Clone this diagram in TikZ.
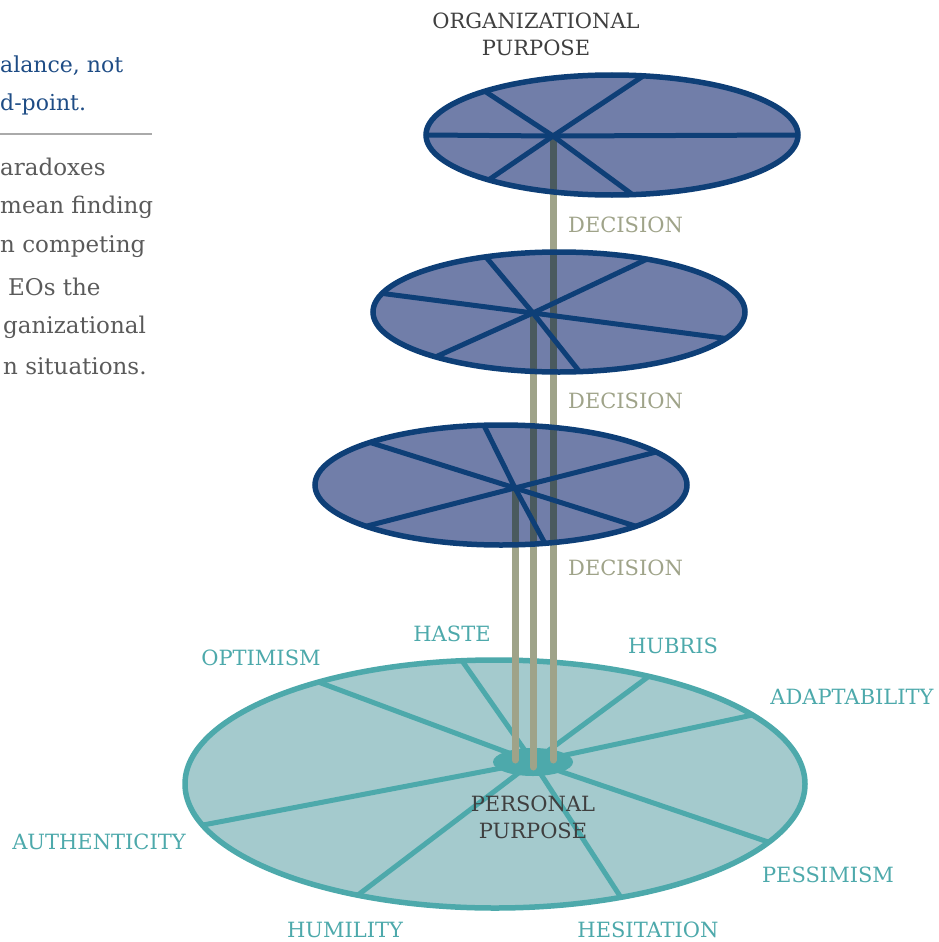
\documentclass[tikz,border=0pt]{standalone}
\usepackage{fontspec}
\setmainfont{DejaVu Serif}
\usetikzlibrary{shapes.geometric}

\definecolor{discNavy}{HTML}{0E3F77}
\definecolor{discSlate}{HTML}{717EA9}
\definecolor{baseTeal}{HTML}{4DA9AB}
\definecolor{baseFill}{HTML}{A4CACD}
\definecolor{rodOlive}{HTML}{9FA389}
\definecolor{rodDark}{HTML}{4A5A5E}
\definecolor{inkDark}{HTML}{3F3F3F}
\definecolor{inkBlue}{HTML}{1E4C85}
\definecolor{inkGray}{HTML}{5A5A5A}
\definecolor{ruleGray}{HTML}{AAAAAA}

\tikzstyle{discUpper} = [ellipse, draw=discNavy, fill=discSlate, line width=5.5pt, inner sep=0pt, outer sep=0pt, minimum width=372pt, minimum height=120pt]
\tikzstyle{discBase} = [ellipse, draw=baseTeal, fill=baseFill, line width=5.5pt, inner sep=0pt, outer sep=0pt, minimum width=620pt, minimum height=248pt]
\tikzstyle{spoke} = [draw=discNavy, line width=5pt]
\tikzstyle{spokeBase} = [draw=baseTeal, line width=5pt]
\tikzstyle{rod} = [draw=rodOlive, line width=7pt, line cap=round]
\tikzstyle{rodShade} = [draw=rodDark, line width=7pt, line cap=round]
\tikzstyle{valueLabel} = [text=baseTeal, inner sep=0pt, font=\fontsize{21}{21}\selectfont]
\tikzstyle{decisionLabel} = [text=rodOlive, inner sep=0pt, anchor=west, font=\fontsize{21}{21}\selectfont]
\tikzstyle{purposeLabel} = [text=inkDark, inner sep=0pt, align=center, font=\fontsize{21}{27}\selectfont]
\tikzstyle{leadLine} = [text=inkBlue, inner sep=0pt, anchor=west, font=\fontsize{22}{22}\selectfont]
\tikzstyle{bodyLine} = [text=inkGray, inner sep=0pt, anchor=west, font=\fontsize{23}{23}\selectfont]

\begin{document}
\begin{tikzpicture}[x=1pt, y=-1pt]
\useasboundingbox (0,0) rectangle (939,942);

% side text
\node (leadA) [leadLine] at (0,66) {alance, not};
\node (leadB) [leadLine] at (0,104) {d-point.};
\draw [ruleGray, line width=1.2pt] (0,134) -- (152,134);
\node (bodyA) [bodyLine] at (0,167) {aradoxes};
\node (bodyB) [bodyLine] at (0,207) {mean finding};
\node (bodyC) [bodyLine] at (0,247) {n competing};
\node (bodyD) [bodyLine] at (8,287) {EOs the};
\node (bodyE) [bodyLine] at (3,327) {ganizational};
\node (bodyF) [bodyLine] at (3,366) {n situations.};

% hubs and rod feet
\coordinate (hubA) at (553,136);
\coordinate (hubB) at (533,313);
\coordinate (hubC) at (515,488);
\coordinate (footA) at (553,760);
\coordinate (footB) at (533,767);
\coordinate (footC) at (515,760);
\coordinate (knot) at (533,762);

% personal purpose base
\node (base) [discBase] at (495,784) {};
\draw [spokeBase] (knot) -- (base.150)
      (knot) -- (base.105)
      (knot) -- (base.35)
      (knot) -- (base.15)
      (knot) -- (base.348)
      (knot) -- (base.318)
      (knot) -- (base.219)
      (knot) -- (base.188);
\node (hub) [ellipse, fill=baseTeal, inner sep=0pt, minimum width=80pt, minimum height=28pt] at (knot) {};

% rods
\draw [rod] (hubA) -- (footA);
\draw [rod] (hubB) -- (footB);
\draw [rod] (hubC) -- (footC);

% decision discs
\node (discA) [discUpper, path picture={\draw [rodShade] (hubA) -- (footA);}] at (612,135) {};
\draw [spoke] (discA.161) -- (hubA) -- (discA.289);
\draw [spoke] (discA.62) -- (hubA) -- (discA.200);
\draw [spoke] (discA.180) -- (hubA) -- (discA.0);

\node (discB) [discUpper, path picture={\draw [rodShade] (hubA) -- (footA); \draw [rodShade] (hubB) -- (footB);}] at (559,312) {};
\draw [spoke] (discB.174) -- (hubB) -- (discB.351);
\draw [spoke] (discB.143) -- (hubB) -- (discB.289);
\draw [spoke] (discB.31) -- (hubB) -- (discB.200);

\node (discC) [discUpper, path picture={\draw [rodShade] (hubA) -- (footA); \draw [rodShade] (hubB) -- (footB); \draw [rodShade] (hubC) -- (footC);}] at (501,485) {};
\draw [spoke] (discC.162) -- (hubC) -- (discC.343);
\draw [spoke] (discC.106) -- (hubC) -- (discC.307);
\draw [spoke] (discC.12) -- (hubC) -- (discC.197);

% labels
\node (orgPurpose) [purposeLabel] at (536,34) {ORGANIZATIONAL\\PURPOSE};
\node (persPurpose) [purposeLabel] at (533,817) {PERSONAL\\PURPOSE};
\node (decA) [decisionLabel] at (568,225) {DECISION};
\node (decB) [decisionLabel] at (568,401) {DECISION};
\node (decC) [decisionLabel] at (568,568) {DECISION};

\node (haste) [valueLabel] at (452,634) {HASTE};
\node (optimism) [valueLabel] at (261,658) {OPTIMISM};
\node (hubris) [valueLabel] at (673,646) {HUBRIS};
\node (adaptability) [valueLabel] at (852,697) {ADAPTABILITY};
\node (pessimism) [valueLabel] at (828,875) {PESSIMISM};
\node (hesitation) [valueLabel] at (648,930) {HESITATION};
\node (humility) [valueLabel] at (345,930) {HUMILITY};
\node (authenticity) [valueLabel] at (99,842) {AUTHENTICITY};

\end{tikzpicture}
\end{document}
